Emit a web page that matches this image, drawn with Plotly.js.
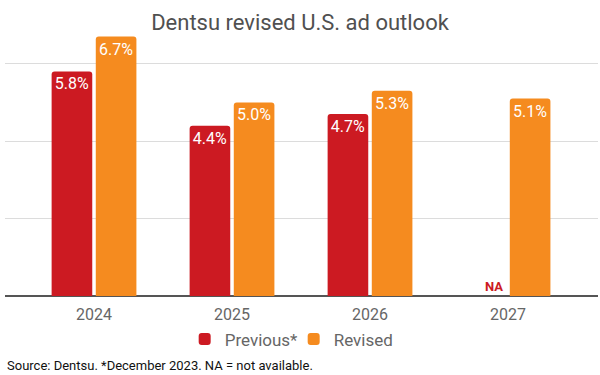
<!DOCTYPE html>
<html>
<head>
<meta charset="utf-8">
<script src="https://cdn.plot.ly/plotly-3.0.1.min.js"></script>
<style>html,body{margin:0;padding:0;background:#fff;}#chart{width:600px;height:375px;}</style>
</head>
<body>
<div id="chart"></div>
<script>
const years = ['2024', '2025', '2026', '2027'];
const previous = [5.8, 4.4, 4.7, null];
const revised = [6.7, 5.0, 5.3, 5.1];
const seriesNames = ['Previous*', 'Revised'];
const naLabel = 'NA';
const titleText = 'Dentsu revised U.S. ad outlook';
const sourceText = 'Source: Dentsu. *December 2023. NA = not available.';

const RED = '#cc1a22';
const ORANGE = '#f58b1f';
const FONT = 'Roboto, "Noto Sans", sans-serif';

const fmt = v => v == null ? '' : v.toFixed(1) + '%';

const traces = [
  {
    type: 'bar', name: seriesNames[0], x: years, y: previous,
    marker: {color: RED}, text: previous.map(fmt),
    textposition: 'inside', insidetextanchor: 'end',
    textfont: {color: '#ffffff', size: 16, family: FONT},
    cliponaxis: false, hoverinfo: 'skip'
  },
  {
    type: 'bar', name: seriesNames[1], x: years, y: revised,
    marker: {color: ORANGE}, text: revised.map(fmt),
    textposition: 'inside', insidetextanchor: 'end',
    textfont: {color: '#ffffff', size: 16, family: FONT},
    cliponaxis: false, hoverinfo: 'skip'
  }
];

const annotations = [];
for (let i = 0; i < previous.length; i++) {
  if (previous[i] === null) {
    annotations.push({
      x: i, y: 0, xref: 'x', yref: 'y', text: '<b>' + naLabel + '</b>',
      showarrow: false, xanchor: 'center', yanchor: 'bottom', xshift: -14, yshift: 0,
      font: {family: FONT, size: 13, color: RED}
    });
  }
}
annotations.push({
  x: 0, y: -0.258, xref: 'paper', yref: 'paper', text: sourceText,
  showarrow: false, xanchor: 'left', yanchor: 'middle',
  font: {family: FONT, size: 13, color: '#111'}
});

const layout = {
  width: 600, height: 375,
  margin: {l: 5, r: 2, t: 25, b: 79},
  paper_bgcolor: '#fff', plot_bgcolor: '#fff',
  font: {family: FONT, color: '#555'},
  title: {
    text: titleText, x: 0.5, xanchor: 'center', y: 1 - 22/375, yanchor: 'middle',
    yref: 'container', font: {family: FONT, size: 22, color: '#505050'}
  },
  barmode: 'group', bargap: 0.36, bargroupgap: 0.08, barcornerradius: 3,
  xaxis: {
    type: 'category', range: [-0.645, 3.652], showgrid: false, zeroline: false,
    showline: false, ticks: 'outside', ticklen: 4, tickcolor: 'rgba(0,0,0,0)',
    tickfont: {size: 16, color: '#666', family: FONT}
  },
  yaxis: {
    range: [0, 7], tickvals: [0, 2, 4, 6], showticklabels: false,
    showgrid: true, gridcolor: '#dcdcdc', gridwidth: 1,
    zeroline: true, zerolinecolor: '#555', zerolinewidth: 1.5, fixedrange: true
  },
  showlegend: true,
  legend: {
    orientation: 'h', x: 0.303, xanchor: 'left', y: -0.16, yanchor: 'middle',
    entrywidth: 64, entrywidthmode: 'pixels',
    font: {size: 17, color: '#666', family: FONT}, itemwidth: 30, traceorder: 'normal'
  },
  annotations: annotations
};

Plotly.newPlot('chart', traces, layout, {displayModeBar: false, staticPlot: true});
</script>
</body>
</html>
